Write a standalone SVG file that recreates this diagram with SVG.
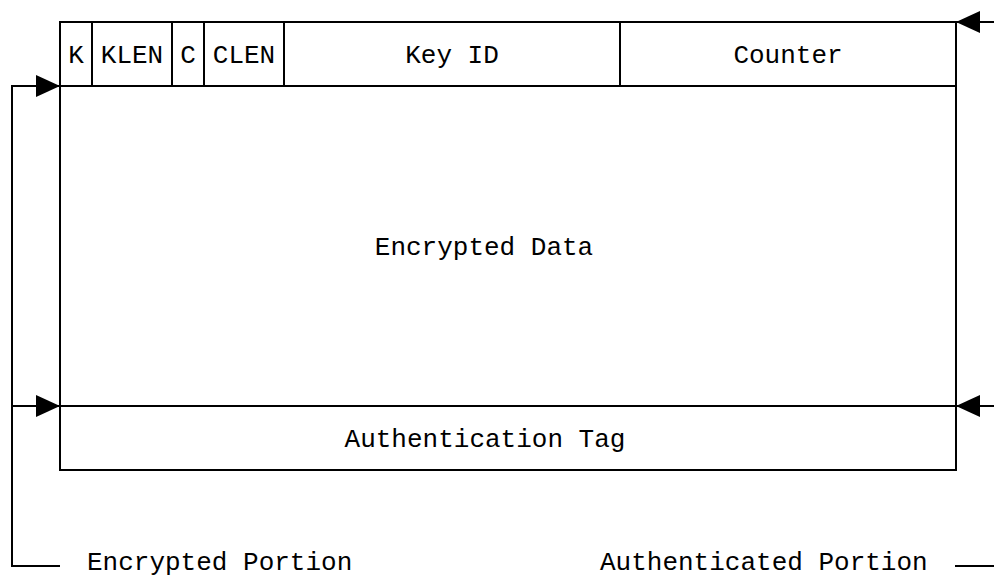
<svg xmlns="http://www.w3.org/2000/svg" width="994" height="579" viewBox="0 0 994 579">
<style>
.ln{stroke:#000;stroke-width:2;fill:none}
.bx{stroke:#000;stroke-width:2;fill:#fff}
.t{font-family:"Liberation Mono","DejaVu Sans Mono",monospace;font-size:26px;fill:#000;text-anchor:middle}
.ts{font-family:"Liberation Mono","DejaVu Sans Mono",monospace;font-size:26px;fill:#000}
</style>
<defs>
<marker id="ah" markerWidth="24" markerHeight="22" refX="24" refY="11" orient="auto" markerUnits="userSpaceOnUse">
<path d="M0,0 L24,11 L0,22 Z" fill="#000"/>
</marker>
</defs>
<rect width="994" height="579" fill="#fff"/>
<g id="packet">
<rect class="bx" x="60" y="22" width="896" height="448"/>
<line class="ln" x1="60" y1="86" x2="956" y2="86"/>
<line class="ln" x1="60" y1="406" x2="956" y2="406"/>
</g>
<g id="k"><line class="ln" x1="92" y1="22" x2="92" y2="86"/><text class="t" x="76" y="63">K</text></g>
<g id="klen"><line class="ln" x1="172" y1="22" x2="172" y2="86"/><text class="t" x="132" y="63">KLEN</text></g>
<g id="c"><line class="ln" x1="204" y1="22" x2="204" y2="86"/><text class="t" x="188" y="63">C</text></g>
<g id="clen"><line class="ln" x1="284" y1="22" x2="284" y2="86"/><text class="t" x="244" y="63">CLEN</text></g>
<g id="keyid"><line class="ln" x1="620" y1="22" x2="620" y2="86"/><text class="t" x="452" y="63">Key ID</text></g>
<g id="counter"><text class="t" x="788" y="63">Counter</text></g>
<g id="data"><text class="t" x="484" y="255">Encrypted Data</text></g>
<g id="tag"><text class="t" x="485" y="447">Authentication Tag</text></g>
<g id="connectors">
<path class="ln" d="M60,566 L12,566 L12,86 L60,86" marker-end="url(#ah)"/>
<line class="ln" x1="12" y1="406" x2="60" y2="406" marker-end="url(#ah)"/>
<path class="ln" d="M955,566 L994,566"/>
<line class="ln" x1="994" y1="22" x2="956" y2="22" marker-end="url(#ah)"/>
<line class="ln" x1="994" y1="406" x2="956" y2="406" marker-end="url(#ah)"/>
</g>
<g id="labels">
<text class="ts" x="87" y="570">Encrypted Portion</text>
<text class="ts" x="600" y="570">Authenticated Portion</text>
</g>
</svg>
